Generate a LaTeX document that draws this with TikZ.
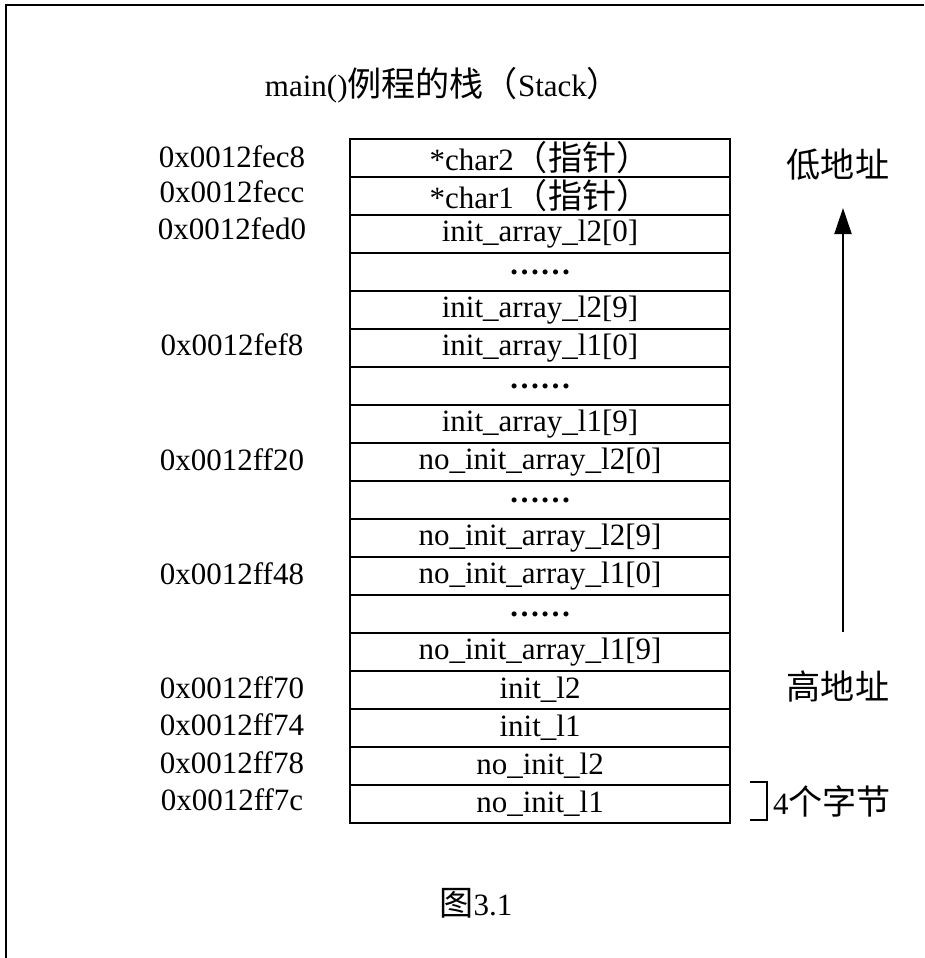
\documentclass[tikz,border=0pt]{standalone}
\usepackage{fontspec}
\setmainfont{Liberation Serif}
\newfontfamily\cjk[Scale=1.1]{Noto Sans CJK SC}
\usetikzlibrary{arrows.meta}
\tikzset{
  cell/.style={draw, line width=1.5pt, minimum width=380pt, minimum height=38pt, inner sep=0pt, anchor=center},
  addr/.style={inner sep=0pt, anchor=center},
  lbl/.style={inner sep=0pt, anchor=center},
}
\newcommand{\zh}[1]{{\cjk #1}}
\begin{document}
\begin{tikzpicture}[x=1pt,y=-1pt,font=\fontsize{31}{36}\selectfont]
\useasboundingbox (0,0) rectangle (924,958);
\coordinate (fbl) at (6,958);
\coordinate (ftl) at (6,5);
\coordinate (ftr) at (924,5);
\draw[line width=2pt] (fbl) -- (ftl) -- (ftr);

\node[lbl] (title) at (443,85) {main()\zh{例程的栈（}Stack\zh{）}};

\foreach \i/\t in {0/{*char2\zh{（指针）}},1/{*char1\zh{（指针）}},2/{init\_array\_l2[0]},3/{\textbf{……}},4/{init\_array\_l2[9]},5/{init\_array\_l1[0]},6/{\textbf{……}},7/{init\_array\_l1[9]},8/{no\_init\_array\_l2[0]},9/{\textbf{……}},10/{no\_init\_array\_l2[9]},11/{no\_init\_array\_l1[0]},12/{\textbf{……}},13/{no\_init\_array\_l1[9]},14/{init\_l2},15/{init\_l1},16/{no\_init\_l2},17/{no\_init\_l1}}{
  \node[cell] (r\i) at (540,{158+38*\i}) {\t};
}

\node[addr] (a0) at (232,157) {0x0012fec8};
\node[addr] (a1) at (232,192) {0x0012fecc};
\node[addr] (a2) at (232,229) {0x0012fed0};
\node[addr] (a5) at (232,345) {0x0012fef8};
\node[addr] (a8) at (232,460) {0x0012ff20};
\node[addr] (a11) at (232,574) {0x0012ff48};
\node[addr] (a14) at (232,688) {0x0012ff70};
\node[addr] (a15) at (232,725) {0x0012ff74};
\node[addr] (a16) at (232,763) {0x0012ff78};
\node[addr] (a17) at (232,800) {0x0012ff7c};

\node[lbl] (low) at (838,165) {\zh{低地址}};
\node[lbl] (high) at (838,686) {\zh{高地址}};
\coordinate (atail) at (843,632);
\coordinate (ahead) at (843,208);
\draw[line width=2pt,-{Triangle[width=17pt,length=26pt]}] (atail) -- (ahead);

\coordinate (b1) at (750,782);
\coordinate (b2) at (767,782);
\coordinate (b3) at (767,820);
\coordinate (b4) at (750,820);
\draw[line width=1.5pt] (b1) -- (b2) -- (b3) -- (b4);
\node[lbl] (bytes) at (832,801) {4\zh{个字节}};

\node[lbl] (cap) at (476,903) {\zh{图}3.1};
\end{tikzpicture}
\end{document}
